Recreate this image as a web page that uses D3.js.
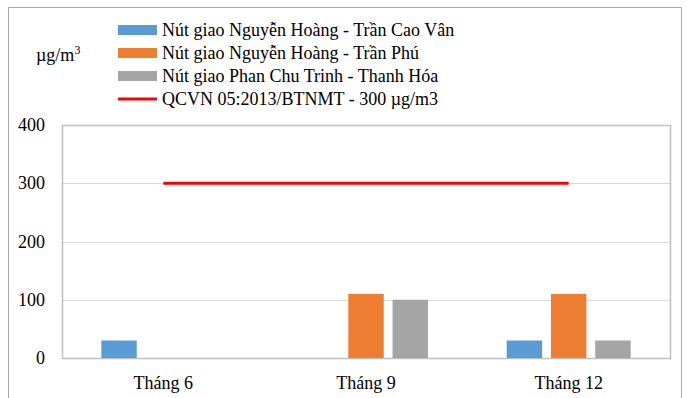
<!DOCTYPE html>
<html>
<head>
<meta charset="utf-8">
<script src="https://cdnjs.cloudflare.com/ajax/libs/d3/7.8.5/d3.min.js"></script>
<style>
  html, body { margin: 0; padding: 0; background: #fff; }
</style>
</head>
<body>
<svg id="chart" width="687" height="398" font-family="'Liberation Serif', 'Times New Roman', serif"></svg>
<script>
// Monthly measurements at three intersections (µg/m³)
const months = ["Tháng 6", "Tháng 9", "Tháng 12"];
const seriesNames = [
  "Nút giao Nguyễn Hoàng - Trần Cao Vân",
  "Nút giao Nguyễn Hoàng - Trần Phú",
  "Nút giao Phan Chu Trinh - Thanh Hóa"
];
const caoVan = [30, 0, 30];
const tranPhu = [0, 110, 110];
const phanChuTrinh = [0, 100, 30];
const limitName = "QCVN 05:2013/BTNMT - 300 µg/m3";
const limitValue = 300;
const yTicks = [0, 100, 200, 300, 400];
const colors = ["#5b9bd5", "#ed7d31", "#a5a5a5"];

const series = [caoVan, tranPhu, phanChuTrinh];
const svg = d3.select("#chart");
const FONT = "'Liberation Serif', 'Times New Roman', serif";

// outer frame
svg.append("path")
  .attr("d", "M8.5,398 V7.5 H681.5 V398")
  .attr("fill", "none").attr("stroke", "#a6a6a6").attr("stroke-width", 1);

const plot = { left: 62, right: 670, top: 125, bottom: 358 };

const x = d3.scaleBand().domain(months).range([plot.left, plot.right]).paddingInner(0).paddingOuter(0);
const x1 = d3.scaleBand().domain(d3.range(series.length)).range([0, 124]).paddingInner(0.2);
const y = d3.scaleLinear().domain([0, 400]).range([plot.bottom, plot.top]);

// gridlines
svg.append("g").selectAll("line").data(yTicks.filter(t => t > 0 && t < 400)).join("line")
  .attr("x1", plot.left).attr("x2", plot.right)
  .attr("y1", d => Math.round(y(d)) + 0.5).attr("y2", d => Math.round(y(d)) + 0.5)
  .attr("stroke", "#d9d9d9").attr("stroke-width", 1);

// plot area border
svg.append("rect")
  .attr("x", plot.left + 0.5).attr("y", plot.top + 0.5)
  .attr("width", plot.right - plot.left).attr("height", plot.bottom - plot.top)
  .attr("fill", "none").attr("stroke", "#bfbfbf").attr("stroke-width", 1.5);

// y tick labels
svg.append("g").selectAll("text").data(yTicks).join("text")
  .attr("x", 45).attr("y", d => y(d) + 6)
  .attr("text-anchor", "end").attr("font-size", 18).attr("font-family", FONT)
  .text(d => d);

// bars
const groups = svg.append("g").selectAll("g").data(months).join("g")
  .attr("transform", m => `translate(${x(m) + x.bandwidth() / 2 - 62},0)`);
groups.selectAll("rect")
  .data((m, i) => series.map((s, k) => ({ k, v: s[i] })).filter(d => d.v > 0))
  .join("rect")
  .attr("x", d => x1(d.k))
  .attr("width", x1.bandwidth())
  .attr("y", d => y(d.v))
  .attr("height", d => y(0) - y(d.v))
  .attr("fill", d => colors[d.k]);

// regulation limit line
const cx = m => x(m) + x.bandwidth() / 2;
svg.append("line")
  .attr("x1", cx(months[0])).attr("x2", cx(months[months.length - 1]))
  .attr("y1", y(limitValue)).attr("y2", y(limitValue))
  .attr("stroke", "#ff0000").attr("stroke-width", 3);

// x labels
svg.append("g").selectAll("text").data(months).join("text")
  .attr("x", d => cx(d)).attr("y", 389)
  .attr("text-anchor", "middle").attr("font-size", 18).attr("font-family", FONT)
  .text(d => d);

// unit label
const unit = svg.append("text").attr("x", 36).attr("y", 61).attr("font-size", 18).attr("font-family", FONT);
unit.append("tspan").text("µg/m");
unit.append("tspan").attr("font-size", 12).attr("dy", -7).text("3");

// legend
const legendRows = [24, 47, 70, 93];
const legend = svg.append("g");
seriesNames.forEach((name, i) => {
  legend.append("rect").attr("x", 118).attr("y", legendRows[i] + 1)
    .attr("width", 39).attr("height", 10).attr("fill", colors[i]);
  legend.append("text").attr("x", 162).attr("y", legendRows[i] + 12)
    .attr("font-size", 18).attr("font-family", FONT).text(name);
});
legend.append("line").attr("x1", 118).attr("x2", 157)
  .attr("y1", legendRows[3] + 6).attr("y2", legendRows[3] + 6)
  .attr("stroke", "#ff0000").attr("stroke-width", 3);
legend.append("text").attr("x", 162).attr("y", legendRows[3] + 12)
  .attr("font-size", 18).attr("font-family", FONT).text(limitName);
</script>
</body>
</html>
